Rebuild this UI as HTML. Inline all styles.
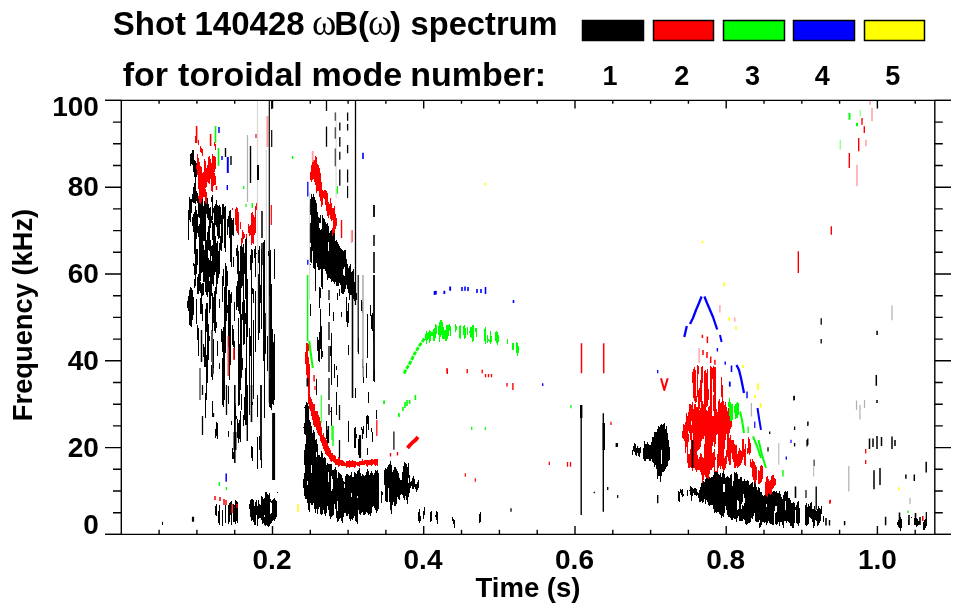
<!DOCTYPE html>
<html><head><meta charset="utf-8"><style>
html,body{margin:0;padding:0;background:#fff;}
svg{display:block}
.t{font-family:"Liberation Sans",sans-serif;font-weight:bold;fill:#000}
.s{font-family:"Liberation Serif",serif;fill:#000}
</style></head><body>
<svg width="963" height="615" viewBox="0 0 963 615">
<g class="t" font-size="33">
<text x="112.8" y="35.3">Shot</text>
<text x="194.5" y="35.3">140428</text>
<text x="334.2" y="35.3">B(</text>
<text x="390" y="35.3">)</text>
<text x="410.6" y="35.3" textLength="147" lengthAdjust="spacingAndGlyphs">spectrum</text>
</g>
<g class="s" font-size="37">
<text x="312" y="35.3">ω</text>
<text x="368.1" y="35.3">ω</text>
</g>
<g class="t" font-size="34">
<text x="122.7" y="86.4">for</text>
<text x="178.1" y="86.4">toroidal</text>
<text x="311.4" y="86.4">mode</text>
<text x="410.2" y="86.4">number:</text>
</g>
<g stroke="#000" stroke-width="1.5">
<rect x="582.5" y="20.5" width="61" height="20" fill="#000"/>
<rect x="653.5" y="20.5" width="60" height="20" fill="#f00"/>
<rect x="723.5" y="20.5" width="61" height="20" fill="#0f0"/>
<rect x="793.5" y="20.5" width="61" height="20" fill="#00f"/>
<rect x="864.5" y="20.5" width="60" height="20" fill="#ff0"/>
</g>
<g class="t" font-size="27" text-anchor="middle">
<text x="610" y="85.3">1</text><text x="681.8" y="85.3">2</text><text x="752.5" y="85.3">3</text><text x="822.2" y="85.3">4</text><text x="892.8" y="85.3">5</text>
</g>
<defs><filter id="bl" x="0" y="0" width="1" height="1"><feGaussianBlur stdDeviation="0.45"/></filter></defs><g id="data" filter="url(#bl)">
<path fill="none" stroke="#000" stroke-width="1" transform="translate(.5 0)" d="M187 301v7M188 210v30M188 296v15M189 197v23M189 290v35M190 154v12M190 199v23M190 287v39M191 153v11M191 199v14M191 288v39M192 150v15M192 194v8M192 217v9M192 290v30M193 150v22M193 187v16M193 214v18M193 263v3M193 297v18M194 160v17M194 183v20M194 212v42M194 264v11M194 279v9M195 161v43M195 206v80M196 163v2M196 169v8M196 191v10M196 210v29M196 249v25M196 299v25M197 193v10M197 214v19M197 249v16M197 277v17M197 325v15M198 199v18M198 226v11M198 274v20M198 328v28M199 203v15M199 224v67M200 204v77M200 282v11M200 298v16M201 202v71M201 284v30M202 199v73M202 283v13M202 304v17M203 206v35M203 245v37M203 283v12M203 344v13M204 201v40M204 250v32M204 347v20M205 203v89M205 309v58M205 393v25M206 204v10M206 240v55M206 303v29M206 355v45M207 198v20M207 232v65M207 303v80M208 204v16M208 226v24M208 258v34M208 324v36M209 208v43M209 260v17M209 281v32M209 336v5M210 207v21M210 240v69M211 197v5M211 216v7M211 246v10M211 261v35M211 365v12M212 195v25M212 221v19M212 245v39M212 293v38M212 374v6M212 401v16M213 208v5M213 223v63M213 297v26M213 339v29M214 206v69M214 291v40M215 204v21M215 236v36M215 287v46M215 429v9M215 506v9M216 200v27M216 243v51M216 322v6M216 422v14M216 504v12M217 205v31M217 241v43M217 341v15M217 423v16M218 206v33M218 251v27M218 511v12M219 205v33M219 243v31M219 299v9M219 363v6M219 505v20M220 207v17M220 236v14M221 215v36M221 329v13M222 204v39M222 276v26M222 331v21M222 358v47M222 510v16M223 204v15M223 269v17M223 327v80M224 207v41M224 287v113M225 206v46M225 263v90M225 505v18M226 266v55M227 219v16M227 271v15M227 305v8M228 216v11M228 290v57M228 386v18M228 431v6M228 505v19M229 211v27M229 290v90M229 503v19M230 210v52M230 294v71M230 502v13M231 218v49M231 292v11M231 421v4M231 501v24M232 220v15M232 325v20M232 448v11M233 218v18M233 257v10M233 329v18M233 452v7M233 504v18M234 302v19M234 341v18M234 407v5M234 505v17M235 405v15M235 500v24M236 248v8M236 286v24M236 416v3M236 501v20M237 245v29M237 281v26M237 419v19M237 502v21M238 251v60M238 318v88M238 423v20M239 271v43M239 344v61M239 420v19M240 246v144M240 411v31M241 245v43M241 314v64M241 394v16M242 247v39M242 302v18M242 358v12M243 244v101M243 415v11M244 253v21M244 300v44M244 397v23M245 239v60M245 313v11M245 368v57M246 238v187M247 279v58M247 402v12M249 328v87M249 504v5M250 255v15M250 336v20M250 500v17M251 249v166M251 446v12M251 499v22M252 250v13M252 288v6M252 402v3M252 447v14M252 499v21M253 289v14M253 320v79M253 500v22M254 249v9M254 506v19M255 246v31M255 291v61M255 502v23M256 253v1M256 500v15M257 246v68M257 395v22M257 437v32M257 506v20M258 250v13M258 274v66M258 500v19M259 246v87M259 436v14M259 504v14M260 285v18M260 505v13M261 249v80M261 458v10M261 496v24M262 497v27M263 242v119M263 499v24M264 240v178M264 498v17M264 517v8M265 313v41M265 492v34M266 492v33M267 336v35M267 494v32M268 251v5M268 495v32M269 253v43M269 379v28M269 493v33M270 250v158M270 499v3M270 514v10M271 284v126M271 501v2M271 513v10M272 329v75M272 500v21M273 342v63M273 499v21M274 249v30M274 334v66M274 498v23M275 500v19M276 501v16M277 492v1M303 427v1M303 479v9M304 407v1M304 423v11M304 450v15M304 473v23M305 405v30M305 444v55M306 402v97M307 403v78M307 485v18M308 406v104M309 205v7M309 225v17M309 420v92M310 199v16M310 223v20M310 247v15M310 264v1M310 304v12M310 422v81M311 194v69M311 426v39M311 473v32M312 197v54M312 433v72M313 194v74M313 430v73M314 197v72M314 432v77M315 200v91M315 440v73M316 203v60M316 379v16M316 439v13M316 457v52M317 212v55M317 337v14M317 444v70M318 217v53M318 340v21M318 455v54M319 218v5M319 228v42M319 287v21M319 332v30M319 455v52M320 215v8M320 230v39M320 288v10M320 309v40M320 457v57M321 229v58M321 326v33M321 451v64M322 215v74M322 351v6M322 453v61M323 218v51M323 458v52M324 219v50M324 457v57M325 222v49M325 458v58M326 224v50M326 421v18M326 465v48M327 223v57M327 430v13M327 463v43M328 226v16M328 251v27M328 464v8M328 482v28M329 233v45M329 303v13M329 464v52M330 231v48M330 346v10M330 411v1M330 464v55M331 230v52M331 333v52M331 407v19M331 464v12M331 491v26M332 236v45M332 470v9M332 489v27M333 233v49M333 312v9M333 470v45M334 233v51M334 364v14M334 469v35M335 241v41M335 467v42M336 240v46M336 366v4M336 392v23M336 470v48M337 242v44M337 293v7M337 375v12M337 478v23M337 511v11M338 244v42M338 472v49M339 246v37M339 289v7M339 473v46M340 248v37M340 474v44M341 249v44M341 312v5M341 475v46M342 250v44M342 478v45M343 251v18M343 275v19M343 481v36M344 250v17M344 276v16M344 482v2M344 488v25M345 250v39M345 476v37M346 259v26M346 297v25M346 474v42M347 264v25M347 311v16M347 474v42M348 268v25M348 303v20M348 345v10M348 421v21M348 475v39M349 266v34M349 476v43M350 264v31M350 475v46M351 272v23M351 472v21M351 497v22M352 271v27M352 299v4M352 318v13M352 477v43M353 269v30M353 477v41M354 282v19M354 428v20M354 472v44M355 281v20M355 388v10M355 427v21M355 473v48M356 293v7M356 434v4M356 474v48M357 471v25M357 498v26M358 338v16M358 439v16M358 470v40M359 468v46M360 473v42M361 300v11M361 427v3M361 476v37M362 302v11M362 359v9M362 429v10M362 474v38M363 366v17M363 426v8M363 475v40M364 476v39M365 475v39M366 363v15M366 416v22M366 472v40M367 314v44M367 415v9M367 448v7M367 469v44M368 392v11M368 416v14M368 471v44M369 475v39M370 305v11M370 473v43M371 315v14M371 428v4M371 471v42M372 313v18M372 432v10M372 473v34M373 329v12M373 475v31M374 370v12M374 473v35M375 470v40M376 410v9M376 471v42M377 470v41M378 473v36M381 491v12M382 492v3M384 470v15M385 468v33M386 469v33M387 467v35M388 465v23M389 464v38M390 461v49M391 465v49M392 472v33M393 470v32M394 467v39M395 467v39M396 469v35M397 471v26M398 473v26M399 478v22M400 480v15M401 480v14M402 472v23M403 466v32M404 462v38M405 463v33M406 464v36M407 467v37M408 463v15M408 483v14M409 475v18M410 482v6M411 481v5M412 478v11M413 476v13M414 479v8M415 484v5M416 484v8M417 482v8M418 480v8M418 512v9M419 509v14M420 516v5M423 511v8M424 507v8M430 512v10M431 511v10M435 515v2M436 511v9M437 512v12M452 517v4M453 519v5M454 520v8M479 514v9M480 512v10M632 450v5M633 446v5M634 443v9M635 444v11M636 448v8M637 446v7M638 448v8M639 448v9M640 447v6M643 448v11M644 441v20M645 444v17M646 444v15M647 442v17M648 444v15M649 445v16M650 445v16M651 442v17M652 437v25M653 437v26M654 432v35M655 432v33M656 432v37M657 429v50M658 426v50M659 427v49M660 425v57M661 424v26M661 464v12M662 425v47M663 424v48M664 423v48M665 429v40M666 426v41M667 433v33M668 440v21M669 447v13M678 491v10M679 492v10M680 489v4M681 490v5M682 489v8M683 494v2M687 490v6M689 490v1M690 486v9M691 487v14M692 488v8M693 489v4M694 488v7M695 488v7M696 489v7M697 492v3M698 493v5M699 490v12M700 487v15M701 483v18M702 483v20M703 481v21M704 482v17M705 479v25M706 478v22M707 478v24M708 479v26M709 477v29M710 478v27M711 477v28M712 477v28M713 475v34M714 472v41M715 472v40M716 472v41M717 472v40M718 474v38M719 475v39M720 473v42M721 477v41M722 473v43M723 471v13M723 492v25M724 474v10M724 492v21M725 478v28M726 477v33M727 476v39M728 477v40M729 478v39M730 475v43M731 474v46M732 486v34M733 481v37M734 472v47M735 473v46M736 472v50M737 474v26M737 510v8M738 479v22M738 509v7M739 479v42M740 477v44M741 477v27M741 509v12M742 481v21M742 505v16M743 481v13M743 506v13M744 479v19M744 503v17M745 481v43M746 481v44M747 480v44M748 481v42M749 485v38M750 484v38M751 483v35M752 482v37M753 487v29M754 482v31M755 484v37M756 487v35M757 490v32M758 487v35M759 488v32M759 523v5M760 492v35M761 492v33M762 495v27M763 496v26M764 495v28M765 495v27M766 496v8M766 507v18M767 497v26M768 493v28M769 494v29M770 495v29M771 494v30M772 492v33M773 491v34M774 491v20M775 492v14M775 513v11M776 491v15M776 512v13M777 493v31M778 493v29M779 491v35M780 494v28M781 497v25M782 499v26M783 495v33M784 492v29M785 491v10M785 510v11M786 492v31M787 491v30M788 498v24M789 498v25M790 500v26M791 503v23M792 503v25M793 502v26M794 503v20M795 507v3M796 505v18M797 502v22M798 501v25M799 508v15M805 505v20M806 503v23M807 507v18M808 504v20M809 506v11M810 503v15M811 502v17M812 509v13M813 509v19M814 506v20M815 510v10M816 511v10M817 509v17M818 506v19M819 508v15M820 509v12M821 506v8M823 516v6M897 522v3M898 520v7M899 519v9M900 517v14M901 519v9M908 520v5M911 517v1M914 518v7M915 520v4M916 518v9M917 519v7M918 521v4M919 521v3M923 522v8M924 520v10M925 519v9M926 518v8"/>
<path fill="none" stroke="#f00" stroke-width="1" transform="translate(.5 0)" d="M195 136v7M196 165v4M197 154v21M198 140v5M198 158v31M198 196v3M199 162v41M200 146v6M200 166v38M201 148v5M201 167v35M202 149v7M202 173v26M203 172v25M204 159v38M205 161v27M205 189v14M206 168v19M206 192v12M207 165v17M208 157v26M209 156v28M210 159v20M211 163v28M212 154v38M213 156v30M214 142v4M214 156v16M214 173v12M215 144v6M215 157v12M215 176v9M232 208v2M235 209v16M236 207v24M237 208v25M238 212v23M240 222v7M241 238v7M242 230v13M243 232v7M244 234v4M246 234v4M248 224v9M249 226v10M250 225v10M251 213v32M252 212v31M253 215v29M254 217v18M255 206v27M256 203v7M305 352v12M306 343v32M307 343v40M308 344v7M308 357v47M309 364v45M310 172v8M310 397v14M311 165v17M311 399v17M312 156v24M312 402v18M313 160v19M313 404v21M314 160v22M314 404v23M315 156v29M315 411v16M316 157v36M316 411v19M317 164v27M317 411v22M318 165v26M318 415v20M319 168v29M319 417v19M320 173v28M320 421v20M321 182v25M321 427v16M322 190v15M322 435v11M323 191v7M323 433v16M324 190v9M324 437v14M325 190v15M325 438v16M326 191v20M326 440v15M327 193v23M327 443v13M328 202v16M328 446v11M329 204v11M329 448v11M330 198v21M330 450v11M331 203v18M331 453v9M332 208v12M332 228v8M332 453v8M333 208v25M333 455v7M334 206v27M334 455v8M335 214v15M335 456v9M336 218v8M336 459v6M337 459v6M338 457v10M339 458v8M340 460v5M341 460v6M342 460v6M343 461v5M344 462v4M345 463v3M346 461v7M347 461v6M348 461v6M349 460v8M350 461v6M351 461v6M352 460v7M353 461v6M354 461v7M355 461v6M356 462v3M357 462v4M358 462v4M359 461v6M360 461v4M361 461v4M362 459v6M363 461v4M364 460v5M365 460v4M366 460v6M367 460v7M368 460v5M369 460v5M370 460v5M371 459v7M372 459v6M373 460v4M374 459v6M375 459v7M376 459v6M377 459v7M682 431v7M683 424v15M684 425v16M685 422v31M686 413v34M687 416v47M688 412v19M688 434v8M688 454v14M689 404v29M689 454v14M690 404v36M690 449v18M691 405v16M691 425v43M692 372v11M692 402v31M692 445v26M693 369v29M693 409v59M694 367v34M694 404v64M695 370v33M695 404v66M696 396v6M696 407v65M697 365v32M697 407v44M697 455v15M698 366v8M698 390v60M698 459v11M699 388v21M699 410v39M699 457v13M700 380v22M700 408v39M700 453v19M701 367v74M701 454v21M702 366v17M702 401v38M702 457v26M703 404v35M703 458v22M704 371v65M704 444v31M705 370v107M706 373v34M706 410v68M707 369v37M707 411v67M708 389v11M708 407v72M709 406v68M710 366v104M711 367v103M712 368v11M712 416v30M712 453v15M713 366v26M713 395v16M713 416v26M713 452v15M714 367v80M714 449v23M715 367v77M715 457v3M715 471v1M716 409v26M716 471v1M717 412v22M717 454v18M718 401v67M719 399v67M720 403v66M721 377v20M721 402v64M722 385v84M723 401v70M724 405v44M724 458v12M725 402v38M725 456v12M726 407v27M726 450v14M727 411v46M728 408v53M729 416v17M729 438v27M730 421v8M730 435v30M731 421v6M731 440v13M732 440v19M733 440v22M734 444v24M735 445v23M736 445v21M737 454v14M738 451v16M739 448v18M740 450v15M741 451v12M742 439v21M743 439v18M744 449v16M745 444v22M747 448v6M748 437v16M749 439v16M750 443v10M750 459v8M751 462v6M752 459v18M753 461v19M754 462v20M755 465v19M756 467v13M758 470v14M759 471v13M760 466v17M761 465v17M762 466v13M765 482v13M766 477v19M767 476v21M768 479v14M769 481v13M770 480v15M771 476v18M772 475v14M773 475v13M774 478v8M775 479v6"/>
<path fill="none" stroke="#0f0" stroke-width="1" transform="translate(.5 0)" d="M425 334v6M426 331v13M427 333v7M428 332v7M429 330v13M430 331v10M431 332v4M432 332v4M433 329v12M434 328v13M435 324v14M436 325v9M438 326v9M439 322v20M440 320v17M441 320v15M442 322v17M443 327v12M444 330v9M445 330v11M446 325v16M447 325v14M448 325v11M449 324v7M450 326v10M455 324v8M456 326v4M459 326v12M460 325v14M463 326v9M464 325v14M465 328v10M467 327v8M469 331v2M470 327v10M471 327v11M472 325v17M473 325v16M475 328v4M476 328v9M484 329v12M485 327v17M487 335v8M488 339v2M489 340v2M490 331v13M491 336v6M495 332v9M496 331v12M497 332v13M498 335v7M507 339v5M512 343v7M513 343v7M516 342v11M517 343v13M518 346v7M728 402v5M729 398v18M730 402v19M731 404v17M732 404v16M734 406v7M735 404v15M736 403v15M737 402v16M738 403v12"/>
<path fill="none" stroke="#0f0" stroke-width="2.0" stroke-linejoin="round" d="M309.2 341.0 L311.0 355.0 L312.8 368.0"/>
<path fill="none" stroke="#f00" stroke-width="3.8" stroke-linejoin="round" d="M407.5 448.0 L410.0 445.0 L413.0 442.0 L415.5 440.0 L418.0 437.0"/>
<path fill="none" stroke="#0f0" stroke-width="2.8" stroke-dasharray="4 1.2" d="M404.1 373.5 L407.0 368.0 L409.9 363.2 L412.5 358.0 L414.9 353.2 L417.5 349.0 L419.9 344.9 L423.0 340.5 L426.5 336.6 L431.5 333.5"/>
<path fill="none" stroke="#f00" stroke-width="2.0" stroke-linejoin="round" d="M661.0 378.3 L664.3 390.0 L667.7 378.3"/>
<path fill="none" stroke="#00f" stroke-width="2.3" stroke-linejoin="round" d="M684.3 337.0 L686.8 326.0"/>
<path fill="none" stroke="#00f" stroke-width="2.3" stroke-linejoin="round" d="M690.0 324.0 L693.0 318.0 L696.0 310.0 L699.0 303.0 L701.6 296.5"/>
<path fill="none" stroke="#00f" stroke-width="2.3" stroke-linejoin="round" d="M704.4 296.5 L707.0 303.0 L710.0 310.0 L713.0 317.0 L717.2 329.5"/>
<path fill="none" stroke="#00f" stroke-width="2.0" stroke-linejoin="round" d="M720.0 335.0 L721.6 342.0"/>
<path fill="none" stroke="#00f" stroke-width="2.3" stroke-linejoin="round" d="M736.5 365.0 L739.0 370.0 L741.0 378.0 L743.0 388.0 L744.0 393.0"/>
<path fill="none" stroke="#00f" stroke-width="2.0" stroke-linejoin="round" d="M757.5 408.0 L759.0 418.0 L761.0 429.8"/>
<path fill="none" stroke="#0f0" stroke-width="2.0" stroke-linejoin="round" d="M740.0 411.5 L742.0 420.0 L744.0 433.0"/>
<path fill="none" stroke="#0f0" stroke-width="2.0" stroke-linejoin="round" d="M753.0 436.4 L757.0 446.0 L761.0 458.0"/>
<path fill="none" stroke="#0f0" stroke-width="2.0" stroke-linejoin="round" d="M758.5 440.0 L762.0 455.0 L766.0 468.0"/>
<path fill="none" stroke="#000" stroke-width="1.50" d="M213.0 362.0V374.0M201.5 330.0V362.0M262.0 211.0V238.0M262.0 243.0V265.0M374.0 235.0V246.0M877.1 330.7V335.0M876.3 375.0V385.7M877.0 400.0V403.0M869.5 438.6V449.0M873.0 438.6V447.0M877.0 436.0V449.0M881.5 437.0V446.0M892.0 436.4V449.0M895.0 440.0V446.0M874.0 470.3V489.3M880.0 468.0V485.0M905.9 474.5V478.7M914.3 474.5V481.0M926.2 461.8V472.4M844.6 521.0V525.2M885.6 516.8V525.2"/>
<path fill="none" stroke="#000" stroke-width="1.30" d="M212.0 330.0V362.0M226.5 385.0V415.0M202.5 385.0V395.0M202.5 416.0V435.0M326.5 101.0V111.0M326.5 126.5V146.8M335.4 112.6V120.8M335.4 127.3V138.7M335.4 148.4V166.3M339.8 122.4V130.5M339.8 137.0V146.8M339.8 151.7V159.8M339.8 169.5V185.8M347.6 112.6V120.8M347.6 124.0V130.5M347.6 145.0V153.3M347.6 169.5V182.6M355.5 100.0V305.0M329.0 290.0V300.0M329.0 322.0V340.0M329.0 346.0V372.0M329.0 378.0V400.0M329.0 404.0V415.0M339.5 405.0V420.0M339.5 440.0V458.0M511.0 508.3V511.7M594.3 491.7V493.3M607.7 487.0V490.0M794.3 395.7V400.0M794.6 426.5V430.0M794.6 443.0V446.4M807.0 439.8V446.4M769.7 431.5V434.0M768.0 447.2V451.4M813.7 460.5V464.7M808.0 421.5V424.8M821.2 318.2V324.8M821.2 339.0V343.4M793.8 396.0V400.5M807.8 421.6V426.0M807.8 438.6V445.0M814.0 459.7V466.0"/>
<path fill="none" stroke="#000" stroke-width="1.00" d="M200.0 368.0V400.0"/>
<path fill="none" stroke="#000" stroke-width="1.60" d="M235.0 403.0V432.0M251.5 385.0V422.0M234.8 385.0V463.0M374.0 252.0V273.0M328.3 426.0V443.0M352.5 290.0V398.0M795.5 486.5V498.0M826.0 518.0V525.5M899.5 512.6V525.0M909.0 515.0V525.0M915.5 513.0V525.0M920.0 517.0V525.0M926.5 512.0V525.0"/>
<path fill="none" stroke="#0f0" stroke-width="1.60" d="M215.5 126.0V143.0M218.5 148.0V166.0M399.0 413.0V417.0M403.0 407.0V411.0M405.0 402.0V408.0M407.0 400.0V406.0M409.6 400.0V404.0M415.4 395.0V400.0M384.2 400.6V404.0M383.9 400.7V404.0M398.8 413.0V416.5M404.6 370.0V373.0"/>
<path fill="none" stroke="#f00" stroke-width="1.50" d="M216.5 186.0V190.0M215.0 496.0V500.0M220.0 497.0V501.0M224.0 499.0V505.0M226.0 500.0V505.0M232.0 504.0V513.0M237.0 504.0V508.0M581.5 343.3V373.3M603.7 343.3V373.3M702.4 334.8V338.0M707.4 336.5V343.1M710.7 356.4V363.0M714.9 359.7V364.7M703.0 350.0V355.0M707.0 352.0V358.0M922.8 516.0V521.0"/>
<path fill="none" stroke="#00f" stroke-width="1.50" d="M219.0 127.0V133.0M222.0 156.0V160.0M226.2 473.5V481.8"/>
<path fill="none" stroke="#00f" stroke-width="2.00" d="M227.8 157.0V173.0"/>
<path fill="none" stroke="#00f" stroke-width="1.40" d="M227.3 185.0V190.0M717.4 348.0V351.4M725.2 361.4V364.7M747.0 391.6V398.2"/>
<path fill="none" stroke="#0f0" stroke-width="1.40" d="M243.6 186.0V189.0M252.3 203.0V208.0M333.0 426.0V446.0M783.0 470.0V476.5"/>
<path fill="none" stroke="#0f0" stroke-width="1.20" d="M246.0 204.0V207.0M337.4 186.0V193.0M332.0 425.0V440.0"/>
<path fill="none" stroke="#000" stroke-width="1.40" d="M225.5 148.0V157.0M231.0 156.0V165.0M250.5 146.0V183.0M247.3 385.0V441.0M162.3 521.7V525.0M581.2 405.0V515.0M603.3 413.3V511.7M657.7 495.0V503.3M816.2 486.5V509.8M829.5 520.0V525.5"/>
<path fill="none" stroke="#b0b0b0" stroke-width="1.20" d="M247.5 135.0V202.0M892.0 305.4V320.2M856.5 400.5V410.0M860.0 405.0V419.5M864.5 400.0V408.0M848.8 466.0V491.4M910.0 497.8V504.0"/>
<path fill="none" stroke="#d8d8d8" stroke-width="1.20" d="M257.5 100.0V330.0M266.4 150.0V330.0"/>
<path fill="none" stroke="#000" stroke-width="2.00" d="M258.0 165.0V180.0M213.2 413.0V417.0M307.5 378.0V386.6"/>
<path fill="none" stroke="#f00" stroke-width="1.20" d="M256.0 134.0V138.0M271.3 205.0V225.0M228.2 336.0V376.0M352.0 230.0V242.0M315.0 386.0V390.0M376.8 420.0V436.0M465.3 473.3V476.7M475.3 478.3V481.7M829.8 500.0V504.0"/>
<path fill="none" stroke="#ff9a9a" stroke-width="2.00" d="M267.4 116.0V147.0"/>
<path fill="none" stroke="#000" stroke-width="1.15" d="M269.3 100.0V403.0"/>
<path fill="none" stroke="#000" stroke-width="1.20" d="M271.7 100.0V109.0M271.7 130.0V147.0M347.6 186.0V198.0M358.2 275.0V352.0M393.9 431.5V449.7M617.7 495.0V498.0M806.0 490.0V498.0"/>
<path fill="none" stroke="#000" stroke-width="3.00" d="M273.6 413.0V480.0M235.0 432.0V450.0"/>
<path fill="none" stroke="#000" stroke-width="1.80" d="M261.0 385.0V460.0M374.0 205.0V217.0M374.0 275.0V381.0M692.5 440.0V468.0"/>
<path fill="none" stroke="#f00" stroke-width="1.60" d="M234.0 348.0V360.0M196.6 126.0V143.0M210.6 134.0V146.0"/>
<path fill="none" stroke="#000" stroke-width="2.20" d="M193.0 516.7V521.7M360.0 435.0V458.0"/>
<path fill="none" stroke="#ff0" stroke-width="1.50" d="M298.0 504.0V511.7"/>
<path fill="none" stroke="#0f0" stroke-width="1.30" d="M219.4 482.0V486.0M226.5 487.0V490.0M337.0 189.0V194.0M471.7 426.7V430.0M485.3 427.3V430.0M571.0 405.0V408.3M748.1 426.5V433.0M908.0 510.4V513.0"/>
<path fill="none" stroke="#ff9a9a" stroke-width="1.80" d="M312.7 151.0V162.0"/>
<path fill="none" stroke="#f00" stroke-width="1.40" d="M341.5 220.0V238.0M314.1 375.0V381.6M390.5 453.0V456.4M397.5 452.0V455.5M447.3 369.0V374.0M467.2 369.0V373.2M482.2 369.8V373.2M485.5 374.0V377.3M488.5 374.0V377.3M491.5 374.0V377.3M507.0 383.0V386.4M512.9 383.0V390.0M447.0 368.0V373.0M447.0 370.0V373.0M862.0 118.0V124.7M864.3 126.3V133.0M858.7 138.0V151.3M849.3 153.0V168.0M831.3 226.3V234.7M798.3 251.3V273.0"/>
<path fill="none" stroke="#ff9a9a" stroke-width="1.40" d="M351.5 230.0V243.0M866.0 139.7V146.3M857.0 164.7V186.3M872.0 108.0V121.3M870.0 100.0V104.7"/>
<path fill="none" stroke="#d8d8d8" stroke-width="1.00" d="M336.1 112.6V198.0M309.6 192.0V300.0"/>
<path fill="none" stroke="#b0b0b0" stroke-width="1.60" d="M363.0 275.0V377.0"/>
<path fill="none" stroke="#00f" stroke-width="1.30" d="M307.8 181.7V196.6M307.8 259.7V264.7M542.7 383.3V386.0M657.7 370.0V373.3M786.3 456.4V459.7"/>
<path fill="none" stroke="#00f" stroke-width="1.60" d="M363.0 152.8V159.0M444.2 290.8V294.0M450.0 286.6V290.8M462.0 287.0V291.0M465.0 286.6V290.8M468.0 287.0V291.0M477.0 289.0V293.0M481.0 289.0V293.0M485.5 287.0V294.0M513.5 300.0V303.0M434.5 291.0V295.0M436.0 290.8V294.5M444.5 291.0V294.0M450.3 286.6V290.8M731.5 365.5V372.0"/>
<path fill="none" stroke="#0f0" stroke-width="1.50" d="M292.6 156.0V159.0M307.6 275.0V341.0"/>
<path fill="none" stroke="#0f0" stroke-width="1.00" d="M321.2 395.0V423.0"/>
<path fill="none" stroke="#000" stroke-width="2.40" d="M581.2 405.0V418.0M603.8 423.0V450.0M616.8 443.0V447.0"/>
<path fill="none" stroke="#f00" stroke-width="1.30" d="M549.3 461.7V465.0M567.5 462.0V466.7M570.5 462.0V466.7M611.0 421.7V425.0M830.3 499.8V503.1M865.7 449.0V453.4M865.7 460.0V464.0"/>
<path fill="none" stroke="#00f" stroke-width="1.80" d="M729.8 381.6V386.6"/>
<path fill="none" stroke="#00f" stroke-width="1.20" d="M754.8 421.5V428.0M791.0 439.8V443.0"/>
<path fill="none" stroke="#ff0" stroke-width="1.60" d="M724.0 282.5V286.6M729.0 317.4V320.7M736.1 326.5V329.8M743.1 364.7V368.0M758.0 383.3V390.0M755.0 395.0V398.0M760.6 403.0V407.4M702.5 240.7V243.3M485.0 183.0V185.3M898.7 487.2V490.2"/>
<path fill="none" stroke="#ff9a9a" stroke-width="1.30" d="M719.9 305.0V312.4M734.8 317.4V321.5M699.1 348.0V363.0"/>
<path fill="none" stroke="#b0b0b0" stroke-width="1.30" d="M751.4 403.0V416.5"/>
<path fill="none" stroke="#b0b0b0" stroke-width="1.00" d="M778.8 443.0V464.7M813.7 460.0V476.5"/>
<path fill="none" stroke="#0f0" stroke-width="2.00" d="M849.5 113.0V119.7M857.0 123.0V126.3"/>
<path fill="none" stroke="#9f9" stroke-width="1.50" d="M840.3 139.7V149.7M860.3 109.7V116.3"/>
</g>
<g id="axes" fill="none" stroke="#000" stroke-width="1.4">
<path d="M121.3 100.4V534.4M934.8 100.4V534.4M105 100.4H951M105 534.4H951"/>
<path d="M105 534.4H121.3M934.8 534.4H951M113 512.7H121.3M934.8 512.7H942.8M113 491.0H121.3M934.8 491.0H942.8M113 469.3H121.3M934.8 469.3H942.8M105 447.6H121.3M934.8 447.6H951M113 425.9H121.3M934.8 425.9H942.8M113 404.2H121.3M934.8 404.2H942.8M113 382.5H121.3M934.8 382.5H942.8M105 360.8H121.3M934.8 360.8H951M113 339.1H121.3M934.8 339.1H942.8M113 317.4H121.3M934.8 317.4H942.8M113 295.7H121.3M934.8 295.7H942.8M105 274.0H121.3M934.8 274.0H951M113 252.3H121.3M934.8 252.3H942.8M113 230.6H121.3M934.8 230.6H942.8M113 208.9H121.3M934.8 208.9H942.8M105 187.2H121.3M934.8 187.2H951M113 165.5H121.3M934.8 165.5H942.8M113 143.8H121.3M934.8 143.8H942.8M113 122.1H121.3M934.8 122.1H942.8M105 100.4H121.3M934.8 100.4H951M159.1 534.4V529.8M159.1 100.4V103.8M196.9 534.4V529.8M196.9 100.4V103.8M234.7 534.4V529.8M234.7 100.4V103.8M272.5 534.4V526.1M272.5 100.4V108.4M310.3 534.4V529.8M310.3 100.4V103.8M348.1 534.4V529.8M348.1 100.4V103.8M385.9 534.4V529.8M385.9 100.4V103.8M423.7 534.4V526.1M423.7 100.4V108.4M461.5 534.4V529.8M461.5 100.4V103.8M499.4 534.4V529.8M499.4 100.4V103.8M537.2 534.4V529.8M537.2 100.4V103.8M575.0 534.4V526.1M575.0 100.4V108.4M612.8 534.4V529.8M612.8 100.4V103.8M650.6 534.4V529.8M650.6 100.4V103.8M688.4 534.4V529.8M688.4 100.4V103.8M726.2 534.4V526.1M726.2 100.4V108.4M764.0 534.4V529.8M764.0 100.4V103.8M801.8 534.4V529.8M801.8 100.4V103.8M839.6 534.4V529.8M839.6 100.4V103.8M877.4 534.4V526.1M877.4 100.4V108.4M915.2 534.4V529.8M915.2 100.4V103.8"/>
</g>
<g class="t" font-size="28" text-anchor="end">
<text x="98.9" y="115.6">100</text>
<text x="98.9" y="196">80</text>
<text x="98.9" y="282.7">60</text>
<text x="98.9" y="369.8">40</text>
<text x="98.9" y="456.6">20</text>
<text x="98.9" y="533.8">0</text>
</g>
<g class="t" font-size="28" text-anchor="middle">
<text x="272" y="568.5">0.2</text>
<text x="423" y="568.5">0.4</text>
<text x="574.5" y="568.5">0.6</text>
<text x="725.7" y="568.5">0.8</text>
<text x="877.4" y="568.5">1.0</text>
</g>
<text class="t" font-size="27.5" x="528" y="596.5" text-anchor="middle">Time (s)</text>
<text class="t" font-size="27.3" transform="translate(32 315) rotate(-90)" text-anchor="middle">Frequency (kHz)</text>
</svg>
</body></html>
